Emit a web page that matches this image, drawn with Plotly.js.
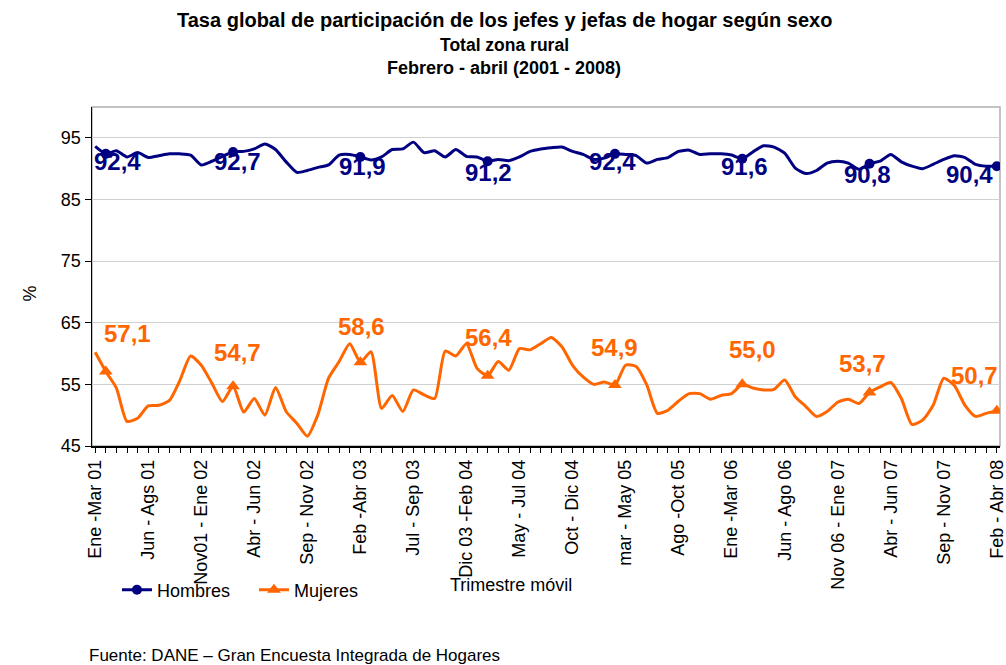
<!DOCTYPE html>
<html>
<head>
<meta charset="utf-8">
<script src="https://cdn.plot.ly/plotly-3.0.1.min.js"></script>
<style>html,body{margin:0;padding:0;background:#fff;}#chart{width:1006px;height:665px;}</style>
</head>
<body>
<div id="chart"></div>
<script>
// Rolling quarters (Trimestre móvil), Ene-Mar 2001 .. Feb-Abr 2008
var categories = [
 'Ene -Mar 01','Feb-Abr 01','Mar-May 01','Abr-Jun 01','May-Jul 01','Jun - Ags 01','Jul-Sep 01','Ago-Oct 01','Sep-Nov 01','Oct-Dic 01',
 'Nov01 - Ene 02','Dic 01-Feb 02','Ene-Mar 02','Feb-Abr 02','Mar-May 02','Abr - Jun 02','May-Jul 02','Jun-Ago 02','Jul-Sep 02','Ago-Oct 02',
 'Sep - Nov 02','Oct-Dic 02','Nov 02-Ene 03','Dic 02-Feb 03','Ene-Mar 03','Feb -Abr 03','Mar-May 03','Abr-Jun 03','May-Jul 03','Jun-Ago 03',
 'Jul - Sep 03','Ago-Oct 03','Sep-Nov 03','Oct-Dic 03','Nov 03-Ene 04','Dic 03 -Feb 04','Ene-Mar 04','Feb-Abr 04','Mar-May 04','Abr-Jun 04',
 'May - Jul 04','Jun-Ago 04','Jul-Sep 04','Ago-Oct 04','Sep-Nov 04','Oct - Dic 04','Nov 04-Ene 05','Dic 04-Feb 05','Ene-Mar 05','Feb-Abr 05',
 'mar - May 05','Abr-Jun 05','May-Jul 05','Jun-Ago 05','Jul-Sep 05','Ago -Oct 05','Sep-Nov 05','Oct-Dic 05','Nov 05-Ene 06','Dic 05-Feb 06',
 'Ene -Mar 06','Feb-Abr 06','Mar-May 06','Abr-Jun 06','May-Jul 06','Jun - Ago 06','Jul-Sep 06','Ago-Oct 06','Sep-Nov 06','Oct-Dic 06',
 'Nov 06 - Ene 07','Dic 06-Feb 07','Ene-Mar 07','Feb-Abr 07','Mar-May 07','Abr - Jun 07','May-Jul 07','Jun-Ago 07','Jul-Sep 07','Ago-Oct 07',
 'Sep - Nov 07','Oct-Dic 07','Nov 07-Ene 08','Dic 07-Feb 08','Ene-Mar 08','Feb - Abr 08'
];

// Tick labels shown on the axis
var shownLabels = ['Ene -Mar 01','Jun - Ags 01','Nov01 - Ene 02','Abr - Jun 02','Sep - Nov 02','Feb -Abr 03',
 'Jul - Sep 03','Dic 03 -Feb 04','May - Jul 04','Oct - Dic 04','mar - May 05','Ago -Oct 05','Ene -Mar 06',
 'Jun - Ago 06','Nov 06 - Ene 07','Abr - Jun 07','Sep - Nov 07','Feb - Abr 08'];

var hombres = [
 93.6,92.4,92.9,91.9,92.6,91.8,92.1,92.4,92.4,92.2,
 90.6,91.2,92.0,92.7,92.8,93.2,94.0,93.1,91.1,89.4,
 89.7,90.2,90.6,92.2,92.3,91.9,91.4,91.9,93.1,93.2,
 94.3,92.6,92.9,91.9,93.1,92.0,91.9,91.2,91.5,91.3,
 91.9,92.8,93.2,93.4,93.5,92.8,92.3,91.5,91.7,92.4,
 92.3,92.1,90.9,91.5,91.8,92.8,93.0,92.3,92.4,92.4,
 92.2,91.6,92.7,93.7,93.5,92.5,90.1,89.2,89.7,90.9,
 91.2,90.9,89.9,90.8,91.2,92.3,91.1,90.4,90.0,90.7,
 91.5,92.1,91.8,90.7,90.4,90.4
];

var mujeres = [
 60.2,57.1,54.4,49.0,49.5,51.5,51.6,52.4,55.7,59.6,
 58.1,55.2,52.2,54.7,50.5,52.7,50.0,54.5,50.6,48.7,
 46.6,50.1,56.0,58.7,61.6,58.6,60.3,51.1,53.2,50.6,
 54.1,53.3,52.7,60.4,59.6,61.6,57.6,56.4,58.7,57.3,
 60.8,60.6,61.6,62.6,61.1,58.1,56.2,55.0,55.4,54.9,
 58.1,57.9,54.9,50.3,50.8,52.3,53.5,53.5,52.6,53.2,
 53.5,55.0,54.4,54.1,54.2,55.7,53.0,51.4,49.8,50.6,
 52.1,52.6,51.9,53.7,54.6,55.3,52.7,48.5,49.2,51.6,
 56.0,54.8,51.6,49.8,50.3,50.7
];

// Feb-Abr points that carry a marker and a value label
var markedPeriods = ['Feb-Abr 01','Feb-Abr 02','Feb -Abr 03','Feb-Abr 04','Feb-Abr 05','Feb-Abr 06','Feb-Abr 07','Feb - Abr 08'];
var hombresLabels = ['92,4','92,7','91,9','91,2','92,4','91,6','90,8','90,4'];
var mujeresLabels = ['57,1','54,7','58,6','56,4','54,9','55,0','53,7','50,7'];

var titleLines = ['Tasa global de participación de los jefes y jefas de hogar según sexo',
  'Total zona rural', 'Febrero - abril (2001 - 2008)'];

// label offsets (px) relative to marker
var hShift = [[12,-8],[4,-10],[2,-10],[1,-11],[-2,-8],[2,-8],[-2,-11],[-27,-8]];
var mShift = [[22,38],[4,34],[1,36],[1,38],[0,37],[10,35],[-7,29],[-22,35]];

var NAVY = '#000080', ORANGE = '#FF6600';
var FONT = 'Liberation Sans, Arial, sans-serif';

var markIdx = markedPeriods.map(function(p){ return categories.indexOf(p); });

var traces = [
  {x: categories, y: hombres, name: 'Hombres', type: 'scatter', mode: 'lines+markers',
   line: {color: NAVY, width: 3, shape: 'spline', smoothing: 0.6},
   marker: {color: NAVY, size: 10, symbol: 'circle'},
   selectedpoints: markIdx, unselected: {marker: {opacity: 0}}, selected: {marker: {opacity: 1}},
   hoverinfo: 'x+y'},
  {x: categories, y: mujeres, name: 'Mujeres', type: 'scatter', mode: 'lines+markers',
   line: {color: ORANGE, width: 3, shape: 'spline', smoothing: 0.6},
   marker: {color: ORANGE, size: 12, symbol: 'triangle-up'},
   selectedpoints: markIdx, unselected: {marker: {opacity: 0}}, selected: {marker: {opacity: 1}},
   hoverinfo: 'x+y'}
];

var annotations = [];
markIdx.forEach(function(idx, k){
  annotations.push({x: categories[idx], y: hombres[idx], xref: 'x', yref: 'y', text: hombresLabels[k],
    showarrow: false, xshift: hShift[k][0], yshift: hShift[k][1],
    font: {family: FONT, size: 24, color: NAVY, weight: 'bold'}});
  annotations.push({x: categories[idx], y: mujeres[idx], xref: 'x', yref: 'y', text: mujeresLabels[k],
    showarrow: false, xshift: mShift[k][0], yshift: mShift[k][1],
    font: {family: FONT, size: 24, color: ORANGE, weight: 'bold'}});
});
var titleY = [1.2566, 1.1829, 1.1150];
var titleSize = [20, 17.5, 18];
titleLines.forEach(function(t, k){
  annotations.push({xref: 'paper', yref: 'paper', x: 0.454, y: titleY[k], xanchor: 'center', yanchor: 'middle',
    text: '<b>' + t + '</b>', showarrow: false, font: {family: FONT, size: titleSize[k], color: '#000'}});
});
annotations.push({xref: 'paper', yref: 'paper', x: -0.081, y: 0.451, text: '%', textangle: -90,
  showarrow: false, font: {family: FONT, size: 18, color: '#000'}});
annotations.push({xref: 'paper', yref: 'paper', x: 0.462, y: -0.41, text: 'Trimestre móvil',
  showarrow: false, xanchor: 'center', yanchor: 'middle', font: {family: FONT, size: 18, color: '#000'}});
annotations.push({xref: 'paper', yref: 'paper', x: -0.005, y: -0.617, xanchor: 'left', yanchor: 'middle',
  text: 'Fuente: DANE – Gran Encuesta Integrada de Hogares',
  showarrow: false, font: {family: FONT, size: 17, color: '#000'}});

var layout = {
  width: 1006, height: 665,
  margin: {l: 92, r: 6, t: 107, b: 219},
  paper_bgcolor: '#fff', plot_bgcolor: '#fff',
  font: {family: FONT, color: '#000'},
  showlegend: true,
  legend: {orientation: 'h', x: 0.0275, y: -0.425, xanchor: 'left', yanchor: 'middle',
    font: {family: FONT, size: 18, color: '#000'}, bgcolor: 'rgba(0,0,0,0)',
    entrywidth: 92, entrywidthmode: 'pixels'},
  xaxis: {type: 'category', range: [-0.3, 85.3], tickmode: 'array', tickvals: categories,
    ticktext: categories.map(function(c){ return shownLabels.indexOf(c) >= 0 ? c : ''; }),
    tickangle: -90, ticks: 'outside', ticklen: 5, tickcolor: '#000', tickwidth: 1,
    showline: true, linecolor: '#000', linewidth: 1.5, showgrid: false, zeroline: false,
    tickfont: {family: FONT, size: 18, color: '#000'}, fixedrange: true},
  yaxis: {range: [45, 100], tickmode: 'array', tickvals: [45, 55, 65, 75, 85, 95],
    ticks: 'outside', ticklen: 6, tickcolor: '#000', showline: true, linecolor: '#000', linewidth: 1.5,
    showgrid: true, gridcolor: '#d0d0d0', gridwidth: 1, zeroline: false,
    tickfont: {family: FONT, size: 18, color: '#000'}, fixedrange: true},
  shapes: [{type: 'rect', xref: 'paper', yref: 'paper', x0: 0, x1: 1, y0: 0, y1: 1,
    line: {color: '#b0b0b0', width: 1.5}, layer: 'below'}],
  annotations: annotations
};

Plotly.newPlot('chart', traces, layout, {displayModeBar: false, staticPlot: true});
</script>
</body>
</html>
